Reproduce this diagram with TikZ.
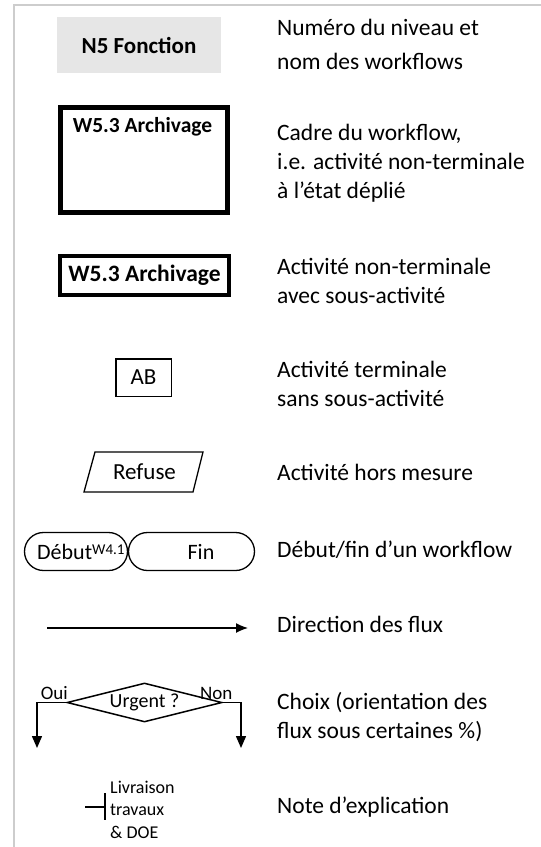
\documentclass[tikz,border=0pt]{standalone}
\usepackage{fontspec}
\setmainfont{Carlito}
\usetikzlibrary{arrows.meta,shapes.geometric}
\definecolor{boxgray}{RGB}{230,230,230}
\definecolor{framegray}{RGB}{205,205,205}
\newcommand\myfs[2]{\fontsize{#1}{#2}\selectfont}
\begin{document}
\begin{tikzpicture}[x=1pt,y=-1pt,
  legend/.style={anchor=base west, inner sep=0pt, font=\myfs{23.5}{28.7}},
  notetxt/.style={anchor=base west, inner sep=0pt, font=\myfs{18}{22}},
  thinline/.style={line width=1.3pt},
  flowtip/.style={-{Latex[length=12pt,width=10pt]}},
  choicetip/.style={-{Triangle[length=12pt,width=10pt]}}]
\useasboundingbox (0,0) rectangle (541,847);
% outer frame
\draw[framegray, line width=2pt] (14,847) -- (14,4.5) -- (541,4.5);

% 1. level title
\node[fill=boxgray, minimum width=164pt, minimum height=56pt, inner sep=0pt,
      font=\bfseries\myfs{23}{28}] (n5) at (139,45) {N5 Fonction};
\node[legend] (l1a) at (277,35) {Numéro du niveau et};
\node[legend] (l1b) at (277,69) {nom des workflows};

% 2. workflow frame
\node[draw, line width=5pt, minimum width=167pt, minimum height=105pt, inner sep=0pt] (wf) at (144,160) {};
\node[anchor=base, inner sep=0pt, font=\bfseries\myfs{21.5}{26}] (wft) at (142.5,132) {W5.3 Archivage};
\node[legend] (l2a) at (277,140) {Cadre du workflow,};
\node[legend] (l2b) at (277,169) {i.e. activité non-terminale};
\node[legend] (l2c) at (277,198) {à l’état déplié};

% 3. non-terminal activity
\node[draw, line width=4pt, minimum width=169pt, minimum height=39pt, inner sep=0pt,
      font=\bfseries\myfs{23.5}{28}] (act) at (144.5,275.5) {W5.3 Archivage};
\node[legend] (l3a) at (277,274) {Activité non-terminale};
\node[legend] (l3b) at (277,303) {avec sous-activité};

% 4. terminal activity
\node[draw, line width=1.5pt, minimum width=55.5pt, minimum height=37.5pt, inner sep=0pt,
      font=\myfs{23}{28}] (ab) at (143.5,377.5) {AB};
\node[legend] (l4a) at (277,377) {Activité terminale};
\node[legend] (l4b) at (277,406) {sans sous-activité};

% 5. activity out of scope
\draw[thinline, line join=miter] (84,492) -- (95,452) -- (203,452) -- (193,492) -- cycle;
\node[inner sep=0pt, font=\myfs{23}{28}] (rf) at (144.5,472) {Refuse};
\node[legend] (l5) at (277,480) {Activité hors mesure};

% 6. start / end
\node[draw, thinline, rounded corners=19pt, minimum width=103pt, minimum height=38pt, inner sep=0pt] (deb) at (76,551.5) {};
\node[draw, thinline, rounded corners=19pt, minimum width=126pt, minimum height=38pt, inner sep=0pt] (fin) at (191.5,551.5) {};
\node[anchor=base west, inner sep=0pt, font=\myfs{22}{26}] (debt) at (37,559)
  {Début\raisebox{5pt}{\myfs{15}{18}W4.1}};
\node[anchor=base, inner sep=0pt, font=\myfs{22}{26}] (fint) at (201,559) {Fin};
\node[legend] (l6) at (277,557) {Début/fin d’un workflow};

% 7. flow direction
\coordinate (a1) at (47,628);
\coordinate (a2) at (248,628);
\draw[thinline, flowtip] (a1) -- (a2);
\node[legend] (l7) at (277,632) {Direction des flux};

% 8. choice
\node[draw, diamond, aspect=4, line width=1.5pt, minimum width=155pt, minimum height=39pt,
      inner sep=0pt, font=\myfs{20}{24}] (dec) at (144.5,702.5) {Urgent ?};
\coordinate (yl) at (37,748);
\coordinate (nl) at (241,748);
\draw[line width=1.5pt, choicetip] (dec.west) -| (yl);
\draw[line width=1.5pt, choicetip] (dec.east) -| (nl);
\node[anchor=base east, inner sep=0pt, font=\myfs{19}{22}] (oui) at (68,699) {Oui};
\node[anchor=base west, inner sep=0pt, font=\myfs{19}{22}] (non) at (200,699) {Non};
\node[legend] (l8a) at (277,709) {Choix (orientation des};
\node[legend] (l8b) at (277,738) {flux sous certaines \%)};

% 9. note
\coordinate (nt1) at (85,807);
\coordinate (nt2) at (105,807);
\coordinate (nv1) at (105,793);
\coordinate (nv2) at (105,820);
\draw[line width=1.5pt] (nt1) -- (nt2);
\draw[line width=1.5pt] (nv1) -- (nv2);
\node[notetxt] (n1) at (110,793) {Livraison};
\node[notetxt] (n2) at (110,815.5) {travaux};
\node[notetxt] (n3) at (110,838) {\& DOE};
\node[legend] (l9) at (277,813) {Note d’explication};
\end{tikzpicture}
\end{document}
